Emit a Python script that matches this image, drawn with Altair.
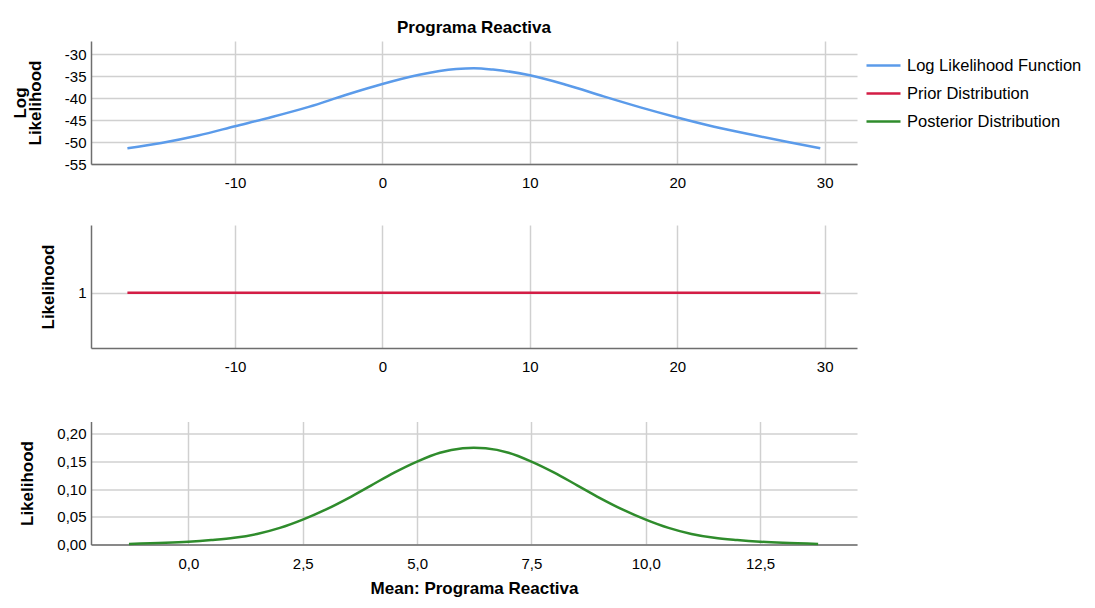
import altair as alt
import pandas as pd

FONT = "Liberation Sans"

series_names = ["Log Likelihood Function", "Prior Distribution", "Posterior Distribution"]
series_colors = ["#5b9bea", "#d31d45", "#2f8c2c"]

# Panel 1: log likelihood function
ll_x = [-17.3, -15, -12.5, -10, -7.5, -5, -2.5, 0, 2.5, 5, 6.2, 7.5, 10, 12.5,
        15, 17.5, 20, 22.5, 25, 27.5, 29.7]
ll_y = [-51.4, -50.2, -48.5, -46.4, -44.3, -42.0, -39.3, -36.8, -34.7, -33.4,
        -33.2, -33.5, -34.8, -37.0, -39.6, -42.1, -44.4, -46.5, -48.3, -50.0, -51.4]

# Panel 2: prior distribution
prior_x = [-17.3, 29.7]
prior_y = [1.0, 1.0]

# Panel 3: posterior distribution
post_x = [-1.3, -0.5, 0, 0.5, 1, 1.5, 2, 2.5, 3, 3.5, 4, 4.5, 5, 5.5, 6, 6.24,
          6.5, 7, 7.5, 8, 8.5, 9, 9.5, 10, 10.5, 11, 11.5, 12, 12.5, 13, 13.77]
post_y = [0.001, 0.003, 0.005, 0.008, 0.012, 0.019, 0.030, 0.045, 0.063, 0.084,
          0.107, 0.130, 0.150, 0.166, 0.174, 0.175, 0.174, 0.166, 0.150, 0.130,
          0.107, 0.084, 0.063, 0.045, 0.030, 0.019, 0.012, 0.008, 0.005, 0.003, 0.001]

ticks_x_top = [-10, 0, 10, 20, 30]
ticks_ll = [-30, -35, -40, -45, -50, -55]
ticks_prior = [1]
ticks_x_post = [0, 2.5, 5, 7.5, 10, 12.5]
ticks_post = [0, 0.05, 0.10, 0.15, 0.20]

df_ll = pd.DataFrame({"x": ll_x, "y": ll_y, "series": series_names[0]})
df_prior = pd.DataFrame({"x": prior_x, "y": prior_y, "series": series_names[1]})
df_post = pd.DataFrame({"x": post_x, "y": post_y, "series": series_names[2]})

color = alt.Color(
    "series:N",
    scale=alt.Scale(domain=series_names, range=series_colors),
    legend=alt.Legend(
        title=None, orient="none", legendX=774, legendY=6,
        symbolType="stroke", symbolSize=1156, symbolStrokeWidth=2.5,
        labelFont=FONT, labelFontSize=16.5, labelColor="#000000", labelLimit=400,
        labelOffset=5, rowPadding=1, padding=0,
    ),
)

AX = dict(
    labelFont=FONT, labelFontSize=15, labelColor="#000000",
    titleFont=FONT, titleFontSize=17, titleFontWeight="bold", titleColor="#000000",
    ticks=False, tickSize=0, domainColor="#6e6e6e", domainWidth=1.5,
    gridColor="#d0d0d0", gridWidth=1.5,
)

x_top = alt.X(
    "x:Q",
    scale=alt.Scale(domain=[-19.77, 32.19], nice=False, zero=False),
    axis=alt.Axis(values=ticks_x_top, title=None, labelPadding=11,
                  labelExpr="'' + datum.value", **AX),
)

p1 = alt.Chart(df_ll).mark_line(strokeWidth=2.5, interpolate="monotone").encode(
    x=x_top,
    y=alt.Y("y:Q", scale=alt.Scale(domain=[-55, -27], nice=False, zero=False),
            axis=alt.Axis(values=ticks_ll, title=["Log", "Likelihood"], labelPadding=5,
                          titlePadding=20, titleLineHeight=15,
                          labelExpr="'' + datum.value", **AX)),
    color=color,
).properties(
    width=766, height=123,
    title=alt.TitleParams("Programa Reactiva", font=FONT, fontSize=17, fontWeight="bold",
                          color="#000000", anchor="middle", frame="group", offset=4.5),
)

p2 = alt.Chart(df_prior).mark_line(strokeWidth=2.5).encode(
    x=x_top,
    y=alt.Y("y:Q", scale=alt.Scale(domain=[0.55, 1.55], nice=False, zero=False),
            axis=alt.Axis(values=ticks_prior, title="Likelihood", labelPadding=5,
                          titlePadding=20, labelExpr="'' + datum.value", **AX)),
    color=color,
).properties(width=766, height=123)

p3 = alt.Chart(df_post).mark_line(strokeWidth=2.5, interpolate="monotone").encode(
    x=alt.X("x:Q", scale=alt.Scale(domain=[-2.13, 14.62], nice=False, zero=False),
            axis=alt.Axis(values=ticks_x_post, title="Mean: Programa Reactiva",
                          labelPadding=12, titlePadding=9,
                          labelExpr="replace(format(datum.value, '.1f'), '.', ',')", **AX)),
    y=alt.Y("y:Q", scale=alt.Scale(domain=[0, 0.2224], nice=False, zero=False),
            axis=alt.Axis(values=ticks_post, title="Likelihood", labelPadding=5,
                          titlePadding=20,
                          labelExpr="replace(format(datum.value, '.2f'), '.', ',')", **AX)),
    color=color,
).properties(width=766, height=123)

chart = alt.vconcat(
    alt.vconcat(p1, p2, spacing=35),
    p3,
    spacing=47.5,
).properties(
    padding={"left": 3, "top": 10, "right": 0, "bottom": 0},
    background="#ffffff",
).configure_view(stroke=None)

chart.save("out.html", embed_options={"renderer": "svg", "actions": False})
